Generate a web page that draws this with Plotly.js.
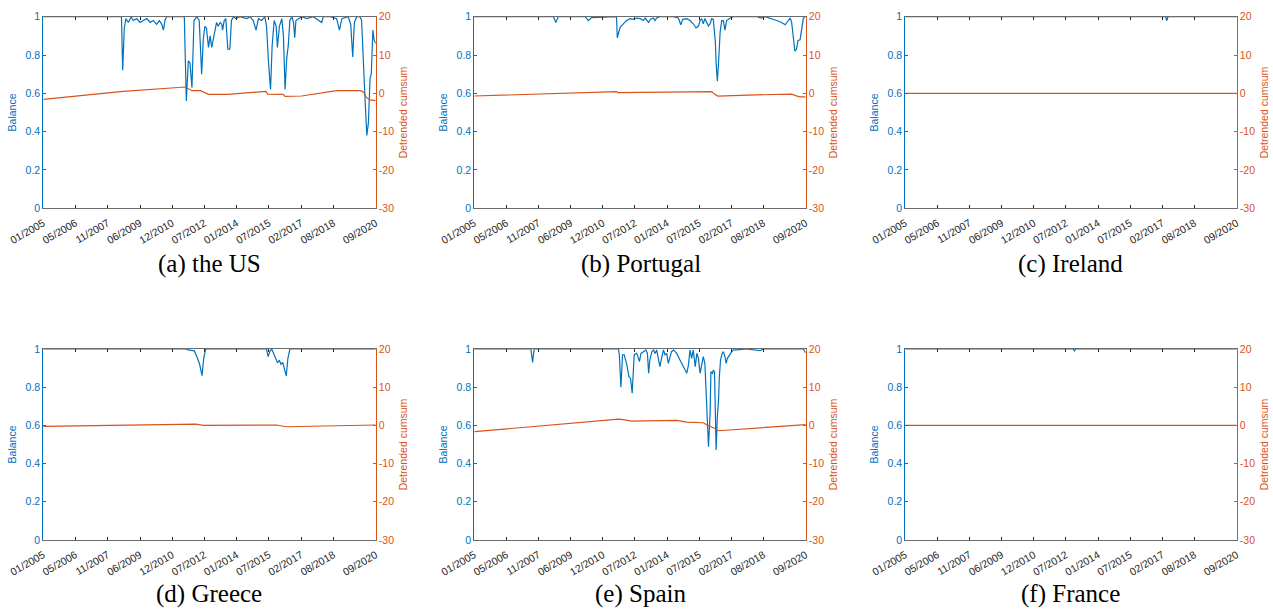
<!DOCTYPE html>
<html>
<head>
<meta charset="utf-8">
<script src="https://cdn.plot.ly/plotly-3.0.1.min.js"></script>
<style>html,body{margin:0;padding:0;background:#fff;}#chart{width:1273px;height:611px;}</style>
</head>
<body>
<div id="chart"></div>
<script>
// x = observation index (0..825); tick labels are the dates at those observations
const tickIdx = [0, 80, 160, 240, 320, 400, 480, 560, 640, 720, 825];
const tickLabels = ['01/2005','05/2006','11/2007','06/2009','12/2010','07/2012','01/2014','07/2015','02/2017','08/2018','09/2020'];
const cumTickVals = [-30, -20, -10, 0, 10, 20];
const cumTickText = ['-30', '-20', '-10', '0', '10', '20'];
const captions = ['(a) the US', '(b) Portugal', '(c) Ireland', '(d) Greece', '(e) Spain', '(f) France'];

// ---- the US ----
const usX = [0,194,197,201,205,211,218,223,232,240,248,257,265,273,281,288,294,298,302,306,350,355,360,364,369,374,381,387,393,397,401,405,410,414,418,422,426,430,434,439,443,445,449,453,458,463,467,472,478,488,505,513,521,528,534,542,550,554,559,564,568,573,578,581,586,592,596,600,604,608,612,617,621,624,627,633,641,654,670,691,695,712,728,735,741,757,763,768,772,778,786,790,794,799,803,807,811,814,818,821,825];
const usBal = [1,1,0.72,0.94,0.99,0.97,1,0.98,0.99,0.97,0.98,0.99,0.97,0.98,0.96,0.98,0.96,0.93,0.98,1,1,0.56,0.77,0.76,0.63,0.98,1,0.98,0.70,0.88,0.95,0.94,0.84,0.90,0.84,0.88,0.92,0.97,0.95,0.97,0.96,0.93,0.98,0.99,0.83,0.83,0.98,1,0.99,1,0.99,1,0.98,0.93,0.99,0.98,1,0.95,0.76,0.62,0.85,0.98,0.95,0.84,0.95,0.99,0.90,0.62,0.78,0.85,0.98,1,0.97,0.89,0.98,0.99,1,0.99,1,0.97,1,1,0.99,0.93,0.99,1,0.96,0.79,0.97,1,1,0.98,0.75,0.55,0.38,0.45,0.68,0.70,0.93,0.88,0.86];
const usCsX = [0,196,198,353,358,364,369,390,410,458,552,557,595,600,641,728,788,795,803,811,825];
const usCs = [-1.6,0.6,0.5,1.65,1.3,0.9,0.7,0.7,-0.25,-0.25,0.5,-0.2,-0.25,-0.8,-0.7,0.7,0.7,0.3,-1.2,-1.7,-1.9];

// ---- Portugal ----
const ptX = [0,197,203,209,276,284,292,350,354,356,363,371,379,388,396,404,413,421,425,434,438,446,450,454,462,495,508,514,519,529,537,545,552,558,562,566,570,574,579,583,587,591,595,600,602,605,608,612,616,620,624,628,637,645,703,715,724,736,753,765,774,782,786,790,794,798,802,806,811,815,819,823,825];
const ptBal = [1,1,0.97,1,1,0.98,0.995,1,1,0.89,0.945,0.963,0.98,0.99,0.986,0.993,0.99,0.98,0.993,0.97,0.986,0.993,0.98,0.993,1,1,0.993,0.958,0.986,0.99,0.98,0.963,0.941,0.951,0.98,0.99,0.963,0.99,0.972,0.951,0.963,0.99,0.986,0.87,0.76,0.663,0.76,0.92,0.98,0.98,0.93,0.98,0.993,1,1,0.993,1,0.993,0.98,0.97,0.958,0.98,0.993,0.972,0.90,0.82,0.83,0.876,0.88,0.95,0.99,1,1];
const ptCsX = [0,354,357,500,591,598,606,700,790,800,810,825];
const ptCs = [-0.7,0.45,0.2,0.3,0.45,-0.2,-0.7,-0.4,-0.2,-0.6,-0.9,-0.9];

// ---- Ireland ----
const ieX = [0,648,651,654,825];
const ieBal = [1,1,0.98,1,1];
const ieCsX = [0,825];
const ieCs = [0,0];

// ---- Greece ----
const grX = [0,354,359,375,383,388,394,398,403,554,558,563,567,572,577,581,586,590,594,598,603,607,612,825];
const grBal = [1,1,0.995,0.99,0.95,0.92,0.86,0.95,1,1,0.96,0.99,1,0.97,0.95,0.93,0.94,0.92,0.93,0.90,0.86,0.95,1,1];
const grCsX = [0,379,397,554,579,603,720,825];
const grCs = [-0.25,0.35,0,0.17,0.1,-0.35,-0.17,0.1];

// ---- Spain ----
const esX = [0,141,145,149,359,361,365,369,373,379,385,389,393,398,403,406,411,415,421,427,431,434,437,442,446,450,454,458,462,467,471,475,479,483,487,491,496,500,504,512,520,529,533,537,541,545,550,554,558,562,566,570,574,579,583,587,589,593,595,598,600,602,605,608,610,613,617,620,624,627,630,637,641,645,653,678,703,711,720,819,823,825];
const esBal = [1,1,0.93,1,1,0.97,0.80,0.97,0.97,0.925,0.855,0.846,0.768,0.969,0.977,0.969,0.934,0.977,0.986,0.995,0.977,0.873,0.942,0.986,0.995,0.977,0.995,0.951,0.908,0.96,0.995,0.969,0.977,0.925,0.96,0.986,0.995,0.986,0.977,0.942,0.908,0.873,0.916,0.995,0.951,0.995,0.908,0.977,0.951,0.873,0.916,0.96,0.925,0.698,0.489,0.663,0.881,0.873,0.89,0.881,0.698,0.471,0.646,0.733,0.855,0.942,0.977,0.986,0.96,0.925,0.951,0.977,0.986,0.995,0.995,1,0.995,0.991,1,1,0.986,0.98];
const esCsX = [0,359,371,392,504,529,570,579,599,608,825];
const esCs = [-1.65,1.65,1.5,1.1,1.3,0.87,0.7,0.1,-0.8,-1.4,0.2];

// ---- France ----
const frX = [0,418,421,424,825];
const frBal = [1,1,0.99,1,1];
const frCsX = [0,825];
const frCs = [0,0];

const balX = [usX, ptX, ieX, grX, esX, frX];
const balY = [usBal, ptBal, ieBal, grBal, esBal, frBal];
const csX = [usCsX, ptCsX, ieCsX, grCsX, esCsX, frCsX];
const csY = [usCs, ptCs, ieCs, grCs, esCs, frCs];

const BLUE = '#0072BD', ORANGE = '#D95319', DARK = '#262626';
const FONT = 'Liberation Sans, Arial, Helvetica, sans-serif';
const W = 1273, H = 611;
const colPx = [[43.3, 375.7], [474.3, 805.7], [905.3, 1236.7]];
const rowPx = [[16.7, 208.3], [349, 540]];
const capCx = [209.5, 640.8, 1070.8];
const capCy = [264, 594];

const data = [];
const layout = {
  width: W, height: H,
  margin: {l: 0, r: 0, t: 0, b: 0},
  paper_bgcolor: '#fff', plot_bgcolor: '#fff',
  showlegend: false,
  font: {family: FONT, size: 10.5, color: DARK},
  annotations: []
};

for (let i = 0; i < 6; i++) {
  const r = Math.floor(i / 3), c = i % 3;
  const k = i + 1, k2 = i + 7;
  const xs = k === 1 ? '' : String(k);
  const xDom = [colPx[c][0] / W, colPx[c][1] / W];
  const yDom = [1 - rowPx[r][1] / H, 1 - rowPx[r][0] / H];

  data.push({x: csX[i], y: csY[i], type: 'scatter', mode: 'lines',
    xaxis: 'x' + xs, yaxis: 'y' + k2, line: {color: ORANGE, width: 1.2}, hoverinfo: 'skip'});
  data.push({x: balX[i], y: balY[i], type: 'scatter', mode: 'lines',
    xaxis: 'x' + xs, yaxis: 'y' + xs, line: {color: BLUE, width: 1.2}, hoverinfo: 'skip'});

  layout['xaxis' + xs] = {
    domain: xDom, anchor: 'y' + xs, range: [0, 825],
    tickmode: 'array', tickvals: tickIdx, ticktext: tickLabels, tickangle: -30,
    ticks: 'inside', ticklen: 3, tickwidth: 1, tickcolor: DARK,
    ticklabelstandoff: 4,
    showline: true, linecolor: '#6b6b6b', linewidth: 1, mirror: 'ticks',
    showgrid: false, zeroline: false,
    tickfont: {family: FONT, size: 10.5, color: DARK}
  };
  layout['yaxis' + xs] = {
    domain: yDom, anchor: 'x' + xs, range: [0, 1],
    tickmode: 'linear', tick0: 0, dtick: 0.2,
    ticks: 'inside', ticklen: 3, tickwidth: 1, tickcolor: BLUE,
    showline: true, linecolor: BLUE, linewidth: 1,
    showgrid: false, zeroline: false,
    tickfont: {family: FONT, size: 10.5, color: BLUE},
    title: {text: 'Balance', font: {family: FONT, size: 10.5, color: BLUE}, standoff: 6}
  };
  layout['yaxis' + k2] = {
    domain: yDom, anchor: 'x' + xs, overlaying: 'y' + xs, side: 'right', range: [-30, 20],
    tickmode: 'array', tickvals: cumTickVals, ticktext: cumTickText,
    ticks: 'inside', ticklen: 3, tickwidth: 1, tickcolor: ORANGE,
    showline: true, linecolor: ORANGE, linewidth: 1,
    showgrid: false, zeroline: false,
    tickfont: {family: FONT, size: 10.5, color: ORANGE},
    title: {text: 'Detrended cumsum', font: {family: FONT, size: 10.5, color: ORANGE}, standoff: 6}
  };
  layout.annotations.push({
    text: captions[i], xref: 'paper', yref: 'paper',
    x: capCx[c] / W, y: 1 - capCy[r] / H, xanchor: 'center', yanchor: 'middle',
    showarrow: false,
    font: {family: 'Liberation Serif, Times New Roman, serif', size: 25, color: '#000'}
  });
}

Plotly.newPlot('chart', data, layout, {staticPlot: true, displayModeBar: false});
</script>
</body>
</html>
